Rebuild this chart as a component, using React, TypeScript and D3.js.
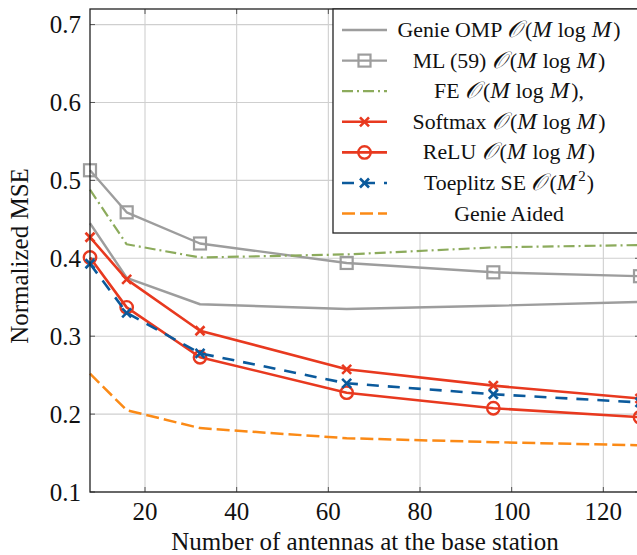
import React from "react";
import * as d3 from "d3";

const antennas = [8, 16, 32, 64, 96, 128];
const genieOMP = [0.445, 0.375, 0.341, 0.335, 0.339, 0.344];
const ml59 = [0.513, 0.459, 0.419, 0.394, 0.382, 0.377];
const fe = [0.488, 0.418, 0.401, 0.405, 0.414, 0.417];
const softmax = [0.427, 0.373, 0.307, 0.2575, 0.2365, 0.22];
const relu = [0.401, 0.337, 0.273, 0.2275, 0.2075, 0.196];
const toeplitz = [0.393, 0.33, 0.278, 0.2395, 0.2255, 0.215];
const genieAided = [0.252, 0.205, 0.182, 0.169, 0.164, 0.16];

const xTicks = [20, 40, 60, 80, 100, 120];
const yTicks = [0.1, 0.2, 0.3, 0.4, 0.5, 0.6, 0.7];

const GRAY = "#9d9d9d";
const GREEN = "#8cab5c";
const RED = "#e8391f";
const BLUE = "#0b5a9c";
const ORANGE = "#fb8a16";

type Series = {
  name: string;
  label: string;
  math: "mlogm" | "mlogm," | "m2" | "none";
  values: number[];
  color: string;
  dash?: string;
  marker: "none" | "square" | "x" | "circle";
  width: number;
};

const series: Series[] = [
  { name: "genieOMP", label: "Genie OMP ", math: "mlogm", values: genieOMP, color: GRAY, marker: "none", width: 2.4 },
  { name: "ml59", label: "ML (59) ", math: "mlogm", values: ml59, color: GRAY, marker: "square", width: 2.4 },
  { name: "fe", label: "FE ", math: "mlogm,", values: fe, color: GREEN, dash: "11,4,2,4", marker: "none", width: 2.2 },
  { name: "softmax", label: "Softmax ", math: "mlogm", values: softmax, color: RED, marker: "x", width: 2.6 },
  { name: "relu", label: "ReLU ", math: "mlogm", values: relu, color: RED, marker: "circle", width: 2.6 },
  { name: "toeplitz", label: "Toeplitz SE ", math: "m2", values: toeplitz, color: BLUE, dash: "12,9", marker: "x", width: 2.6 },
  { name: "genieAided", label: "Genie Aided", math: "none", values: genieAided, color: ORANGE, dash: "13,5", marker: "none", width: 2.5 },
];

const W = 637;
const H = 555;
const L = 90, R = 640, T = 9, B = 492;
const FONT = '"Liberation Serif", "Times New Roman", Times, serif';

function Marker({ type, x, y, color }: { type: string; x: number; y: number; color: string }) {
  if (type === "square")
    return <rect x={x - 6} y={y - 6} width={12} height={12} fill="none" stroke={color} strokeWidth={2.2} />;
  if (type === "circle")
    return <circle cx={x} cy={y} r={6.2} fill="none" stroke={color} strokeWidth={2.4} />;
  if (type === "x") {
    const s = 4.5;
    return (
      <g stroke={color} strokeWidth={2.6}>
        <line x1={x - s} y1={y - s} x2={x + s} y2={y + s} />
        <line x1={x - s} y1={y + s} x2={x + s} y2={y - s} />
      </g>
    );
  }
  return null;
}

function MathPart({ kind }: { kind: string }) {
  if (kind === "none") return null;
  const O = (
    <tspan fontSize={23.5} style={{ fontFamily: '"DejaVu Serif", serif', fontStyle: "italic" }}>
      𝒪
    </tspan>
  );
  if (kind === "m2")
    return (
      <>
        {O}
        <tspan dx={3}>(</tspan>
        <tspan fontStyle="italic" fontSize={23.5}>M</tspan>
        <tspan dx={2} dy={-9} fontSize={15}>2</tspan>
        <tspan dx={1} dy={9}>)</tspan>
      </>
    );
  return (
    <>
      {O}
      <tspan dx={3}>(</tspan>
      <tspan fontStyle="italic" fontSize={23.5}>M</tspan>
      <tspan dx={6}>log</tspan>
      <tspan dx={6} fontStyle="italic" fontSize={23.5}>M</tspan>
      <tspan dx={2}>){kind === "mlogm," ? "," : ""}</tspan>
    </>
  );
}

export default function App() {
  const x = d3.scaleLinear().domain([8, 128]).range([L, R]);
  const y = d3.scaleLinear().domain([0.1, 0.72]).range([B, T]);
  const line = d3
    .line<number>()
    .x((_, i) => x(antennas[i]))
    .y((d) => y(d));

  const legX = 333, legY = 9, legW = 310, legH = 224;
  const rowY0 = 30, rowDy = 30.6;

  return (
    <svg
      width={W}
      height={H}
      style={{ position: "absolute", left: 0, top: 0, background: "white", fontFamily: FONT }}
    >
      <rect x={0} y={0} width={W} height={H} fill="white" />
      <g stroke="#cfcfcf" strokeWidth={1.1}>
        {xTicks.map((t) => (
          <line key={"gx" + t} x1={x(t)} x2={x(t)} y1={T} y2={B} />
        ))}
        {yTicks.map((t) => (
          <line key={"gy" + t} x1={L} x2={R} y1={y(t)} y2={y(t)} />
        ))}
      </g>
      <g stroke="#555" strokeWidth={1}>
        {xTicks.map((t) => (
          <g key={"tx" + t}>
            <line x1={x(t)} x2={x(t)} y1={B} y2={B - 5} />
            <line x1={x(t)} x2={x(t)} y1={T} y2={T + 5} />
          </g>
        ))}
        {yTicks.map((t) => (
          <g key={"ty" + t}>
            <line x1={L} x2={L + 5} y1={y(t)} y2={y(t)} />
            <line x1={R} x2={R - 5} y1={y(t)} y2={y(t)} />
          </g>
        ))}
      </g>
      {series.map((s) => (
        <g key={s.name}>
          <path
            d={line(s.values) || ""}
            fill="none"
            stroke={s.color}
            strokeWidth={s.width}
            strokeDasharray={s.dash}
            strokeLinejoin="round"
          />
          {s.values.map((v, i) => (
            <Marker key={i} type={s.marker} x={x(antennas[i])} y={y(v)} color={s.color} />
          ))}
        </g>
      ))}
      <rect x={L} y={T} width={R - L} height={B - T} fill="none" stroke="#222" strokeWidth={1.3} />
      <g fontSize={25} fill="#111">
        {xTicks.map((t) => (
          <text key={"lx" + t} x={x(t)} y={520} textAnchor="middle">
            {t}
          </text>
        ))}
        {yTicks.map((t) => (
          <text key={"ly" + t} x={81} y={y(t) + 8.5} textAnchor="end">
            {d3.format(".1f")(t)}
          </text>
        ))}
      </g>
      <text x={(L + R) / 2} y={550} textAnchor="middle" fontSize={25} fill="#111">
        Number of antennas at the base station
      </text>
      <text
        transform={`translate(28, 256) rotate(-90)`}
        textAnchor="middle"
        fontSize={25}
        fill="#111"
      >
        Normalized MSE
      </text>
      <rect x={legX} y={legY} width={legW} height={legH} fill="white" stroke="#222" strokeWidth={1.3} />
      {series.map((s, i) => {
        const ry = rowY0 + i * rowDy;
        return (
          <g key={"leg" + s.name}>
            <line
              x1={342}
              x2={387}
              y1={ry}
              y2={ry}
              stroke={s.color}
              strokeWidth={s.width}
              strokeDasharray={s.dash}
            />
            <Marker type={s.marker} x={364.5} y={ry} color={s.color} />
            <text x={509} y={ry + 7} textAnchor="middle" fontSize={21.8} fill="#111">
              <tspan>{s.label}</tspan>
              <MathPart kind={s.math} />
            </text>
          </g>
        );
      })}
    </svg>
  );
}
